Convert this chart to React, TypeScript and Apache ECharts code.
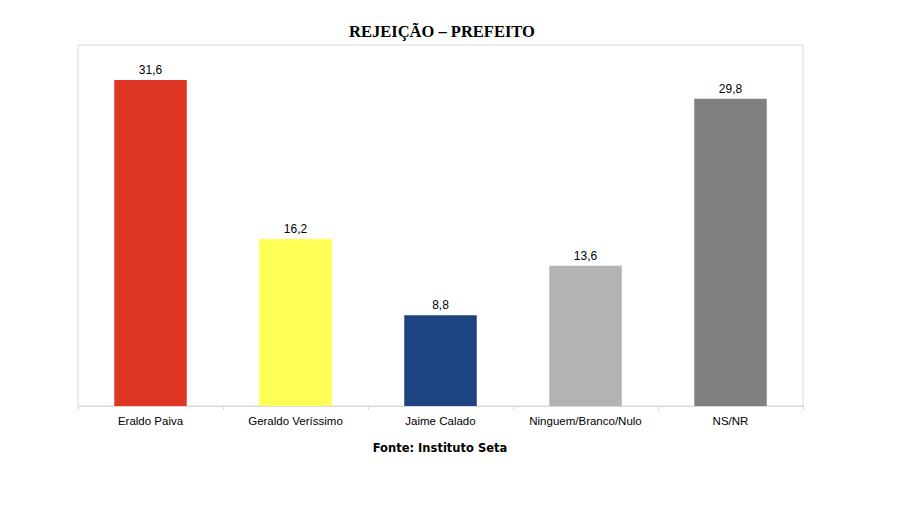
import React, { useEffect, useRef } from "react";
import * as echarts from "echarts";

const categories = ["Eraldo Paiva", "Geraldo Veríssimo", "Jaime Calado", "Ninguem/Branco/Nulo", "NS/NR"];
const values = [31.6, 16.2, 8.8, 13.6, 29.8];
const colors = ["#DE3525", "#FFFF55", "#1D4480", "#B3B3B3", "#808080"];
const titleText = "REJEIÇÃO – PREFEITO";
const sourceText = "Fonte: Instituto Seta";

export default function App() {
  const ref = useRef<HTMLDivElement>(null);
  useEffect(() => {
    const chart = echarts.init(ref.current!, null, { renderer: "svg" });
    chart.setOption({
      animation: false,
      backgroundColor: "#ffffff",
      title: [
        {
          text: titleText,
          left: 437,
          top: 18,
          textAlign: "center",
          textStyle: { fontFamily: "Liberation Serif", fontWeight: "bold", fontSize: 16.5, color: "#000" },
        },
        {
          text: sourceText,
          left: 435,
          top: 437,
          textAlign: "center",
          textStyle: { fontFamily: "DejaVu Sans", fontWeight: "bold", fontSize: 11.5, color: "#000" },
        },
      ],
      grid: {
        left: 78,
        right: 98,
        top: 45,
        bottom: 102,
        show: true,
        borderColor: "#d9d9d9",
        borderWidth: 1,
        backgroundColor: "transparent",
      },
      xAxis: {
        type: "category",
        data: categories,
        axisLine: { lineStyle: { color: "#d9d9d9" } },
        axisTick: { show: true, length: 4, lineStyle: { color: "#d9d9d9" } },
        axisLabel: { color: "#000", fontSize: 11.5, fontFamily: "Liberation Sans", margin: 9, interval: 0 },
      },
      yAxis: {
        type: "value",
        min: 0,
        max: 35,
        show: false,
        splitLine: { show: false },
      },
      series: [
        {
          type: "bar",
          barWidth: "50%",
          data: values.map((v, i) => ({ value: v, itemStyle: { color: colors[i] } })),
          label: {
            show: true,
            position: "top",
            distance: 4,
            color: "#000",
            fontSize: 12,
            fontFamily: "Liberation Sans",
            formatter: (p: any) => String(p.value).replace(".", ","),
          },
        },
      ],
    });
    return () => chart.dispose();
  }, []);
  return <div ref={ref} style={{ position: "fixed", left: 0, top: 0, width: 901, height: 508 }} />;
}
